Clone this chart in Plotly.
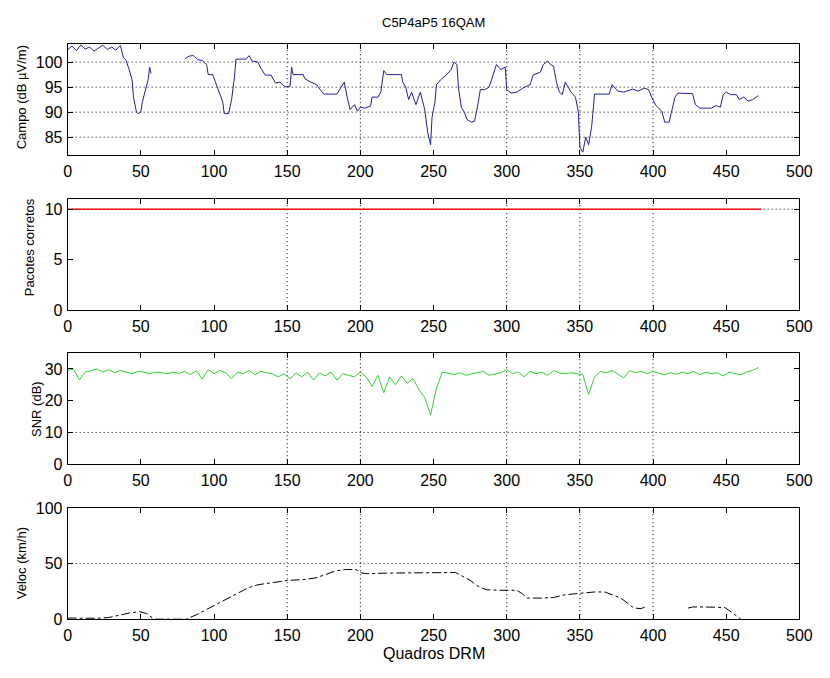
import plotly.graph_objects as go

# ---------------- data ----------------
campo_x = [0, 3, 6, 9, 12, 15, 18, 21, 24, 27, 30, 33, 36, 38, 40, 42, 44, 45, 46, 47, 48, 50, 51, 53, 55, 56, 57,
           None,
           80, 83, 86, 89, 92, 95, 96, 99, 101, 104, 106, 107, 110, 112, 114, 115, 122, 124, 126, 130, 132, 135, 139,
           142, 145, 148, 150, 152, 153, 154, 161, 162, 166, 170, 175, 184, 189, 191, 193, 196, 198, 200, 203, 207,
           208, 212, 214, 216, 218, 228, 229, 231, 233, 235, 238, 241, 244, 246, 248, 249, 251, 252, 255, 259, 262,
           264, 266, 267, 269, 271, 273, 276, 278, 280, 282, 285, 288, 293, 296, 299, 300, 303, 307, 311, 316, 318,
           323, 325, 328, 330, 332, 334, 336, 338, 340, 344, 347, 349, 350, 352, 354, 356, 358, 359, 360, 370, 372,
           374, 376, 380, 386, 390, 394, 397, 399, 402, 404, 406, 408, 411, 413, 415, 417, 427, 429, 432, 440, 443,
           446, 448, 450, 453, 457, 459, 462, 465, 468, 472]
campo_y = [102.5, 103.2, 102.3, 103.4, 102.6, 103, 102.2, 102.8, 103.4, 102.5, 103, 102.4, 103.3, 101, 100.3, 98.5,
           96.5, 93, 91.5, 90, 89.7, 90, 92, 94, 96.5, 99, 97.7,
           None,
           100.6, 101.2, 101.3, 100.5, 100.3, 99.5, 97.5, 97.5, 96, 93.5, 92, 89.7, 89.7, 92.5, 97, 100.6, 100.6,
           101.3, 100.2, 100, 98.8, 97.4, 97.4, 95.8, 96, 95.2, 95, 95.2, 99, 97.5, 97.5, 96.7, 96, 95.5, 93.6, 93.6,
           96, 93, 90.5, 91.5, 90.2, 91, 90.8, 91.2, 93, 93, 94, 98.3, 97.5, 97.5, 96, 95, 92.5, 94, 91.5, 94, 90.5,
           86, 83.5, 89, 92, 95.5, 96.5, 97.5, 98.5, 100, 99.5, 95, 91, 90, 88.5, 88, 88.2, 91, 94.5, 94.5, 95, 99.5,
           98.5, 99, 94.5, 93.8, 94, 94.8, 95.5, 97.4, 98, 99.5, 100.2, 99.5, 99.2, 96, 94, 93.5, 96, 94, 93, 90, 83,
           82, 85, 83.5, 87, 90, 93.6, 93.6, 95.5, 94.8, 94.2, 94, 94.6, 94.2, 94.8, 94.5, 93, 91.3, 90.8, 90.2, 88,
           88, 90.5, 93, 93.8, 93.7, 91.5, 90.8, 90.8, 91.3, 91, 93.5, 94, 93.5, 93.5, 92.5, 93, 92.2, 92.5, 93.3]

pacotes_x = [0, 474]
pacotes_y = [10, 10]

snr_x = list(range(0, 473, 4))
snr_y = [29.5, 30, 26.5, 29, 29.5, 30, 29, 29.8, 28.8, 29.5, 29, 28.5, 29.2, 29, 28.5, 29, 28.8, 28.5, 29, 28.6,
         29.2, 28.2, 29.5, 26.8, 29.8, 28.5, 29.5, 28.8, 27, 29, 28.5, 29.5, 28.2, 29.3, 28.8, 28.5, 27.5, 28.5,
         26.8, 28.8, 27.5, 29, 26.5, 28.8, 27.8, 29, 26.5, 28.5, 28, 27.5, 29, 27.5, 24.5, 28, 22.5, 27.5, 25, 27.8,
         25.5, 27, 23.5, 21, 15.5, 24, 29, 28.5, 28.2, 28.8, 28, 28.5, 28.8, 29.2, 28, 28.5, 28.8, 29.8, 28.5, 29,
         27.5, 29.3, 28.5, 29, 28, 29.5, 28.8, 28.5, 28.8, 28.5, 28.2, 22, 27.5, 29.2, 28.8, 29.5, 28.3, 27.2, 29.5,
         28.8, 29.3, 28.5, 29.3, 28.6, 28.2, 28.8, 28.3, 29, 28.5, 29.2, 28.2, 29, 28.5, 28.8, 27.8, 29, 28.5, 28.2,
         29, 29.5, 30.5]

veloc_x = [0, 10, 20, 28, 35, 42, 49, 54, 59, 70, 81, 88, 97, 105, 114, 123, 130, 140, 151, 160, 169, 176, 183,
           190, 197, 201, 205, 220, 240, 258, 265, 270, 275, 280, 286, 296, 307, 311, 314, 325, 332, 340, 350, 360,
           367, 372, 378, 383, 387, 392, 396, None, 424, 427, 435, 443, 449, 454, 460]
veloc_y = [1, 1, 0.8, 1.5, 3.5, 5.5, 6.8, 5, 0, 0, 0, 4, 10, 16, 22, 28, 31, 33, 35, 35.5, 37, 40, 43.5, 44.7, 44.7,
           41.5, 41, 41.5, 42, 42.5, 42, 38.5, 35, 30, 26.5, 26, 26, 22.5, 19, 19, 19.5, 22, 23.5, 24.5, 24.5, 22,
           19, 14, 10, 9.5, 12, None, 10, 11, 11, 11, 10.5, 6, 0]

x_ticks = [0, 50, 100, 150, 200, 250, 300, 350, 400, 450, 500]
x_grid = [150, 200, 300, 350, 400]
title_text = "C5P4aP5 16QAM"
xlabel_text = "Quadros DRM"
ylabels = ["Campo (dB µV/m)", "Pacotes corretos", "SNR (dB)", "Veloc (km/h)"]
y_ranges = [[81.4, 103.6], [0, 11], [0, 35], [0, 100]]
y_ticks = [[85, 90, 95, 100], [0, 5, 10], [0, 10, 20, 30], [0, 50, 100]]
y_grid = [[85, 90, 95, 100], [10], [10], [50]]

# ---------------- figure ----------------
W, H = 830, 674
L, R = 65, 812
tops = [37, 196, 354, 513]
height = 114
ylabel_x = [18, 26, 33, 18]
ylabel_y = [92, 245, 411, 570]
FONT = "Liberation Sans, Arial, Helvetica, sans-serif"
GRID_DASH = "1px,3px"

fig = go.Figure()
series = [
    (campo_x, campo_y, "#2020a0", "solid", 1),
    (pacotes_x, pacotes_y, "#f01010", "solid", 1.5),
    (snr_x, snr_y, "#30d030", "solid", 1),
    (veloc_x, veloc_y, "#000000", "dashdot", 1),
]
for i, (xs, ys, col, dash, w) in enumerate(series):
    sfx = "" if i == 0 else str(i + 1)
    fig.add_trace(go.Scatter(x=xs, y=ys, mode="lines", line=dict(color=col, width=w, dash=dash),
                             connectgaps=False, xaxis="x" + sfx, yaxis="y" + sfx, showlegend=False))

axis_common = dict(showline=True, linecolor="black", linewidth=1, mirror="ticks", ticks="inside", ticklen=5,
                   tickcolor="black", showgrid=False, zeroline=False,
                   tickfont=dict(family=FONT, size=16, color="black"))

layout = dict(width=W, height=H, margin=dict(l=0, r=0, t=0, b=0), plot_bgcolor="white", paper_bgcolor="white",
              showlegend=False)
annotations = []
shapes = []
for i in range(4):
    sfx = "" if i == 0 else str(i + 1)
    top = tops[i]
    bot = top + height
    ydom = [1 - bot / H, 1 - top / H]
    xdom = [L / W, R / W]
    layout["xaxis" + sfx] = dict(axis_common, domain=xdom, range=[0, 500], tickvals=x_ticks,
                                 anchor="y" + sfx, ticklabelstandoff=2)
    layout["yaxis" + sfx] = dict(axis_common, domain=ydom, range=y_ranges[i], tickvals=y_ticks[i],
                                 anchor="x" + sfx, ticklabelstandoff=1)
    for gx in x_grid:
        shapes.append(dict(type="line", xref="x" + sfx, yref="y" + sfx + " domain", x0=gx, x1=gx, y0=0, y1=1,
                           line=dict(color="black", width=1, dash=GRID_DASH), layer="below"))
    for gy in y_grid[i]:
        shapes.append(dict(type="line", xref="x" + sfx + " domain", yref="y" + sfx, x0=0, x1=1, y0=gy, y1=gy,
                           line=dict(color="black", width=1, dash=GRID_DASH), layer="below"))
    annotations.append(dict(text=ylabels[i], x=ylabel_x[i] / W, y=1 - ylabel_y[i] / H, xref="paper",
                            yref="paper", textangle=-90, showarrow=False, xanchor="center", yanchor="middle",
                            font=dict(family=FONT, size=13, color="black")))

annotations.append(dict(text=title_text, x=(L + R) / 2 / W, y=1 - 15 / H, xref="paper", yref="paper",
                        showarrow=False, xanchor="center", yanchor="middle",
                        font=dict(family=FONT, size=13, color="black")))
annotations.append(dict(text=xlabel_text, x=(L + R) / 2 / W, y=1 - 662 / H, xref="paper", yref="paper",
                        showarrow=False, xanchor="center", yanchor="middle",
                        font=dict(family=FONT, size=16, color="black")))
layout["annotations"] = annotations
layout["shapes"] = shapes
fig.update_layout(**layout)

# remove the default page margin so the 830-px figure fills the window exactly
fig.write_html("out.html", config={"displayModeBar": False},
               post_script="document.body.style.margin='0';document.body.style.overflow='hidden';"
                           "document.documentElement.style.overflow='hidden';")
